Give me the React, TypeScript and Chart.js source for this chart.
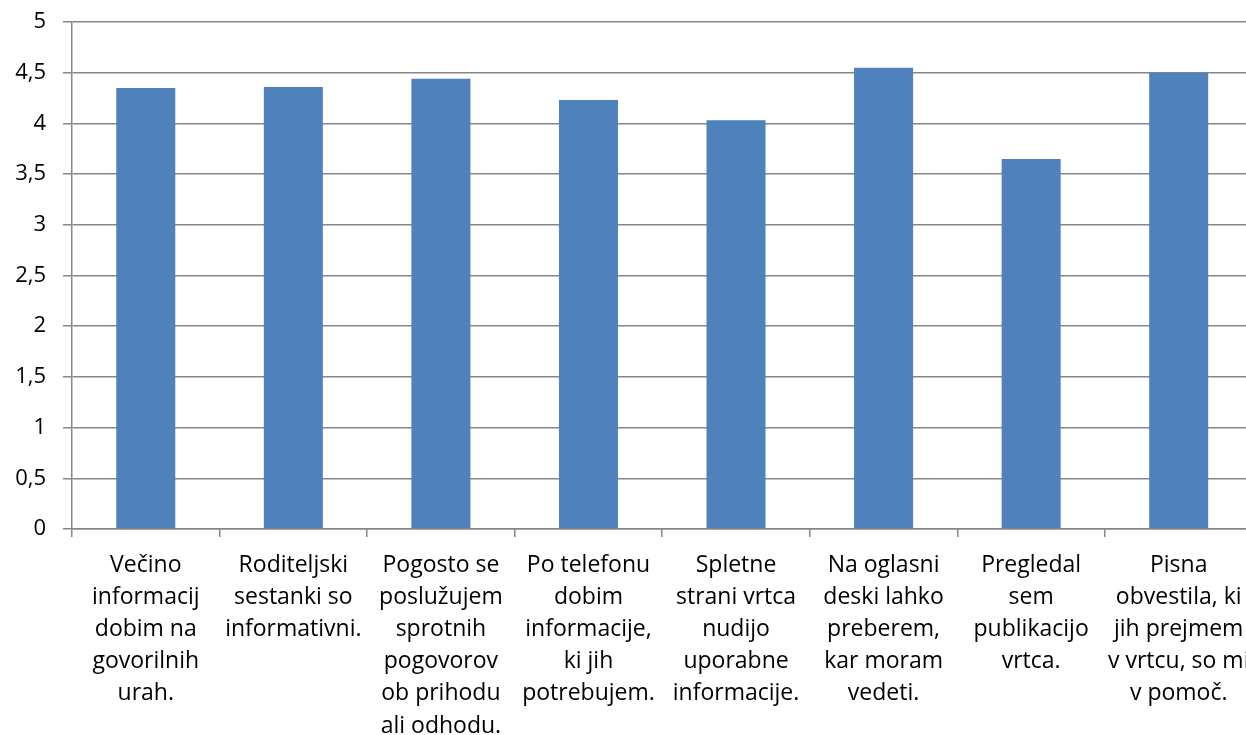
import React, { useEffect, useRef } from "react";
import { Chart, registerables } from "chart.js";

Chart.register(...registerables);

const categories: string[][] = [
  ["Večino", "informacij", "dobim na", "govorilnih", "urah."],
  ["Roditeljski", "sestanki so", "informativni."],
  ["Pogosto se", "poslužujem", "sprotnih", "pogovorov", "ob prihodu", "ali odhodu."],
  ["Po telefonu", "dobim", "informacije,", "ki jih", "potrebujem."],
  ["Spletne", "strani vrtca", "nudijo", "uporabne", "informacije."],
  ["Na oglasni", "deski lahko", "preberem,", "kar moram", "vedeti."],
  ["Pregledal", "sem", "publikacijo", "vrtca."],
  ["Pisna", "obvestila, ki", "jih prejmem", "v vrtcu, so mi", "v pomoč."],
];

const values: number[] = [4.35, 4.36, 4.44, 4.23, 4.03, 4.55, 3.65, 4.5];

const FONT = "'Open Sans', Lato, sans-serif";

export default function App() {
  const ref = useRef<HTMLCanvasElement | null>(null);

  useEffect(() => {
    if (!ref.current) return;
    const chart = new Chart(ref.current, {
      type: "bar",
      data: {
        labels: categories,
        datasets: [
          {
            data: values,
            backgroundColor: "#4F81BD",
            borderWidth: 0,
            barPercentage: 0.4,
            categoryPercentage: 1,
          },
        ],
      },
      options: {
        responsive: false,
        animation: false,
        layout: { padding: { top: 22, right: 9, left: 0, bottom: 0 } },
        plugins: { legend: { display: false }, tooltip: { enabled: false } },
        scales: {
          x: {
            grid: {
              drawOnChartArea: false,
              drawTicks: true,
              tickLength: 8,
              color: "#868686",
              lineWidth: 1.5,
            },
            border: { display: true, color: "#868686", width: 1.5 },
            ticks: {
              color: "#000",
              font: { family: FONT, size: 23, lineHeight: 1.4 },
              maxRotation: 0,
              minRotation: 0,
              autoSkip: false,
              padding: 12,
            },
            afterFit: (s: any) => {
              s.height = 735 - 529;
            },
          },
          y: {
            min: 0,
            max: 5,
            ticks: {
              stepSize: 0.5,
              color: "#000",
              font: { family: FONT, size: 22 },
              padding: 17,
              callback: (v: any) => String(v).replace(".", ","),
            },
            grid: {
              color: "#868686",
              lineWidth: 1.5,
              tickLength: 9,
            },
            border: { display: true, color: "#868686", width: 1.5 },
            afterFit: (s: any) => {
              s.width = 72;
              s.paddingTop = 0;
              s.paddingBottom = 0;
            },
          },
        },
      },
    });
    return () => chart.destroy();
  }, []);

  return (
    <div
      style={{
        position: "fixed",
        left: 0,
        top: 0,
        width: 1246,
        height: 735,
        overflow: "hidden",
        background: "#fff",
      }}
    >
      <canvas ref={ref} width={1262} height={735} style={{ display: "block" }} />
    </div>
  );
}
